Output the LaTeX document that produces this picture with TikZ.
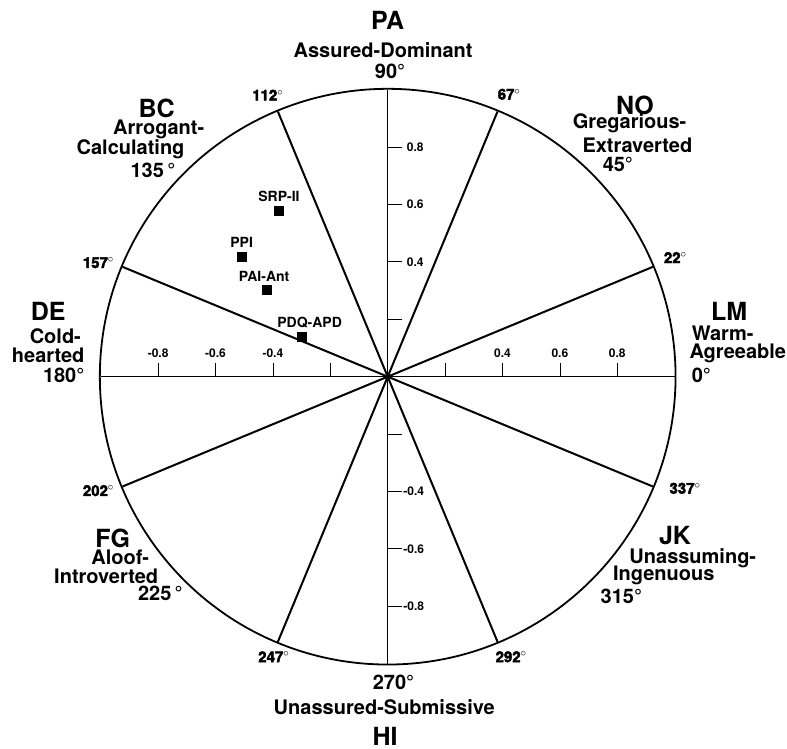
\documentclass[tikz,border=0pt]{standalone}
\usepackage{fontspec}
\setmainfont{TeX Gyre Heros}
\newfontfamily\heavyfont[FakeBold=2.5]{TeX Gyre Heros}
\usetikzlibrary{positioning}

\begin{document}
\begin{tikzpicture}
[x=287pt,y=287pt,
 code/.style={font=\fontsize{25}{25}\selectfont\bfseries,inner sep=0pt},
 desc/.style={font=\fontsize{20}{20}\selectfont\bfseries,inner sep=0pt},
 ang/.style={font=\fontsize{15}{15}\selectfont\heavyfont\bfseries,inner sep=0pt},
 tlab/.style={font=\fontsize{12}{12}\selectfont\bfseries,inner sep=0pt},
 plab/.style={font=\fontsize{14}{14}\selectfont\bfseries,inner sep=0pt},
 sq/.style={fill=black,minimum size=10pt,inner sep=0pt},
 spoke/.style={line width=2pt},
 axis/.style={line width=0.8pt}]
\useasboundingbox (-1.3509,-1.2972) rectangle (1.3913,1.3125);
% circle, axes and octant borders
\draw[axis] (-1,0) -- (1,0);
\draw[axis] (0,-1) -- (0,1);
\foreach \a in {22.5,67.5,112.5,157.5}
\draw[spoke] (\a:1) -- (\a+180:1);
\draw[line width=1.8pt] (0,0) circle (1.003);
% ticks
\foreach \t in {0.2,0.4,0.6,0.8} {
\draw[axis] (\t,0) -- (\t,0.047);
\draw[axis] (-\t,0) -- (-\t,0.047);
\draw[axis] (0,\t) -- (0.049,\t);
\draw[axis] (0,-\t) -- (0.049,-\t);
}
\foreach \t in {0.4,0.6,0.8} {
\node[tlab] (xp\t) at (\t,0.083) {\t};
\node[tlab] (xn\t) at (-\t,0.083) {-\t};
\node[tlab,anchor=west] (yp\t) at (0.066,\t) {\t};
\node[tlab,anchor=west] (yn\t) at (0.054,-\t) {-\t};
}
% octant labels
\node[code] (pa) at (0,1.243) {PA};
\node[desc] (paDesc) at (-0.016,1.138) {Assured-Dominant};
\node[desc] (paDeg) at (0.008,1.063) {90°};
\node[code] (no) at (0.862,0.947) {NO};
\node[desc] (noDesc1) at (0.843,0.883) {Gregarious-};
\node[desc] (noDesc2) at (0.870,0.807) {Extraverted};
\node[desc] (noDeg) at (0.802,0.738) {45°};
\node[code] (lm) at (1.190,0.226) {LM};
\node[desc] (lmDesc1) at (1.167,0.151) {Warm-};
\node[desc] (lmDesc2) at (1.220,0.082) {Agreeable};
\node[desc] (lmDeg) at (1.093,0.006) {0°};
\node[code] (jk) at (1.001,-0.555) {JK};
\node[desc] (jkDesc1) at (1.063,-0.633) {Unassuming-};
\node[desc] (jkDesc2) at (0.962,-0.691) {Ingenuous};
\node[desc] (jkDeg) at (0.814,-0.767) {315°};
\node[desc] (hiDeg) at (0.020,-1.065) {270°};
\node[desc] (hiDesc) at (-0.012,-1.152) {Unassured-Submissive};
\node[code] (hi) at (-0.009,-1.253) {HI};
\node[code] (fg) at (-0.958,-0.563) {FG};
\node[desc] (fgDesc1) at (-0.932,-0.629) {Aloof-};
\node[desc,anchor=east] (fgDesc2) at (-0.799,-0.694) {Introverted};
\node[desc] (fgDeg) at (-0.792,-0.755) {225\,°};
\node[code] (de) at (-1.183,0.226) {DE};
\node[desc] (deDesc1) at (-1.158,0.142) {Cold-};
\node[desc] (deDesc2) at (-1.183,0.076) {hearted};
\node[desc] (deDeg) at (-1.129,0.006) {180°};
\node[code] (bc) at (-0.805,0.935) {BC};
\node[desc] (bcDesc1) at (-0.798,0.860) {Arrogant-};
\node[desc] (bcDesc2) at (-0.896,0.792) {Calculating};
\node[desc] (bcDeg) at (-0.818,0.720) {135\,°};
% border angles
\node[ang] (a22) at (1.002,0.415) {22$^{\circ}$};
\node[ang] (a67) at (0.423,0.984) {67$^{\circ}$};
\node[ang] (a112) at (-0.418,0.981) {112$^{\circ}$};
\node[ang] (a157) at (-1.008,0.397) {157$^{\circ}$};
\node[ang] (a202) at (-1.008,-0.397) {202$^{\circ}$};
\node[ang] (a247) at (-0.397,-0.976) {247$^{\circ}$};
\node[ang] (a292) at (0.430,-0.976) {292$^{\circ}$};
\node[ang] (a337) at (1.036,-0.389) {337$^{\circ}$};
% measures
\node[sq] (srp) at (-0.379,0.578) {};
\node[sq] (ppi) at (-0.509,0.418) {};
\node[sq] (pai) at (-0.420,0.302) {};
\node[sq] (pdq) at (-0.300,0.139) {};
\node[plab,above=4pt of srp] (srpLab) {SRP-II};
\node[plab,above=4pt of ppi] (ppiLab) {PPI};
\node[plab,above=3pt of pai,xshift=-3pt] (paiLab) {PAI-Ant};
\node[plab,above=3pt of pdq,xshift=8pt] (pdqLab) {PDQ-APD};
\end{tikzpicture}
\end{document}
